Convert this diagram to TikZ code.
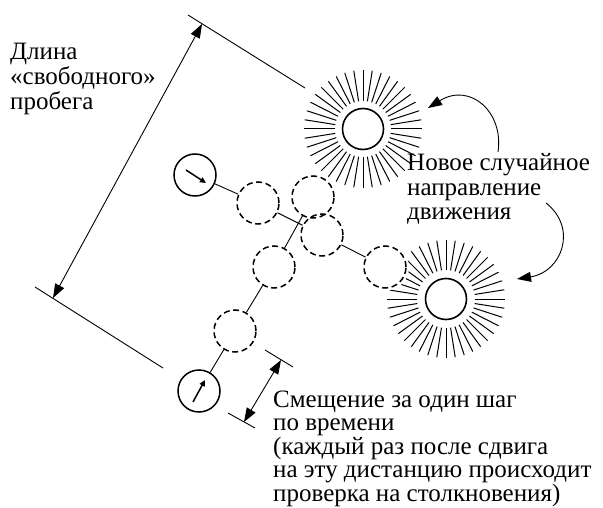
\documentclass[tikz,border=0pt]{standalone}
\usepackage{fontspec}
\setmainfont{Liberation Serif}
\usetikzlibrary{arrows.meta}
\begin{document}
\begin{tikzpicture}[x=1bp,y=-1bp,
  thinline/.style={line width=0.9bp},
  solidcirc/.style={circle, draw, line width=1.5bp, minimum size=42bp, inner sep=0pt},
  dashcirc/.style={circle, draw, dash pattern=on 6bp off 3.6bp, line width=1.5bp, minimum size=42bp, inner sep=0pt},
  suncirc/.style={circle, draw, line width=1.6bp, minimum size=41bp, inner sep=0pt},
  ray/.style={line width=1bp},
  bigarrow/.style={-{Triangle[length=14bp,width=10bp]}, line width=0.9bp},
  dimarrow/.style={{Triangle[length=14bp,width=10bp]}-{Triangle[length=14bp,width=10bp]}, line width=0.9bp},
  smallarrow/.style={-{Triangle[length=6bp,width=5.5bp]}, line width=1.5bp},
  lbl/.style={align=left, inner sep=0pt, anchor=base west}
]
\useasboundingbox (0,0) rectangle (603,508);

% suns
\node[suncirc] (sunT) at (363,129) {};
\node[suncirc] (sunB) at (446,299) {};
\begin{scope}[even odd rule]
  \clip (0,0) rectangle (603,508) (313,197) circle (24) (385,267) circle (24);
  \foreach \a in {0,9,...,351} {
    \draw[ray] (sunT) ++(\a:28) -- ++(\a:31);
    \draw[ray] (sunB) ++(\a:29) -- ++(\a:30);
  }
\end{scope}

% particles
\node[solidcirc] (s1) at (195,175) {};
\node[solidcirc] (s2) at (199,391) {};
\node[dashcirc] (A) at (258,203) {};
\node[dashcirc] (B) at (313,197) {};
\node[dashcirc] (C) at (322,235) {};
\node[dashcirc] (D) at (274,267) {};
\node[dashcirc] (E) at (385,267) {};
\node[dashcirc] (F) at (235,331) {};

\draw[thinline] (s1) -- (A);
\draw[thinline] (A) -- (C);
\draw[thinline] (C) -- (E);
\draw[thinline] (s2) -- (F);
\draw[thinline] (F) -- (D);
\draw[thinline] (D) -- (B);

% velocity arrows
\coordinate (v1a) at (186,170);
\coordinate (v1b) at (206,183);
\coordinate (v2a) at (193,402);
\coordinate (v2b) at (205,380);
\draw[smallarrow] (v1a) -- (v1b);
\draw[smallarrow] (v2a) -- (v2b);

% free path dimension
\coordinate (e1a) at (188,15);
\coordinate (e1b) at (305,88);
\coordinate (e2a) at (35,287);
\coordinate (e2b) at (163,368);
\draw[thinline] (e1a) -- (e1b);
\draw[thinline] (e2a) -- (e2b);
\coordinate (d1a) at (53,298);
\coordinate (d1b) at (202,24);
\draw[dimarrow] (d1a) -- (d1b);

% step dimension
\coordinate (e3a) at (265,350);
\coordinate (e3b) at (293,367);
\coordinate (e4a) at (228,413);
\coordinate (e4b) at (255,428);
\draw[thinline] (e3a) -- (e3b);
\draw[thinline] (e4a) -- (e4b);
\coordinate (d2a) at (244,422);
\coordinate (d2b) at (281,360);
\draw[dimarrow] (d2a) -- (d2b);

% curved arrows
\coordinate (c1a) at (498,152);
\coordinate (c1b) at (428,108);
\draw[bigarrow] (c1a) .. controls (504,112) and (470,82) .. (c1b);
\coordinate (c2a) at (546,203);
\coordinate (c2b) at (517,279);
\draw[bigarrow] (c2a) .. controls (578,228) and (562,272) .. (c2b);

% labels (anchor = baseline of last line)
\node[lbl, font=\fontsize{25bp}{25bp}\selectfont] (t1) at (10,110) {Длина\\«свободного»\\пробега};
\node[lbl, font=\fontsize{25bp}{24.5bp}\selectfont] (t2) at (407,220) {Новое случайное\\направление\\движения};
\node[lbl, font=\fontsize{25bp}{23.5bp}\selectfont] (t3) at (273,501) {Смещение за один шаг\\по времени\\(каждый раз после сдвига\\на эту дистанцию происходит\\проверка на столкновения)};
\end{tikzpicture}
\end{document}
